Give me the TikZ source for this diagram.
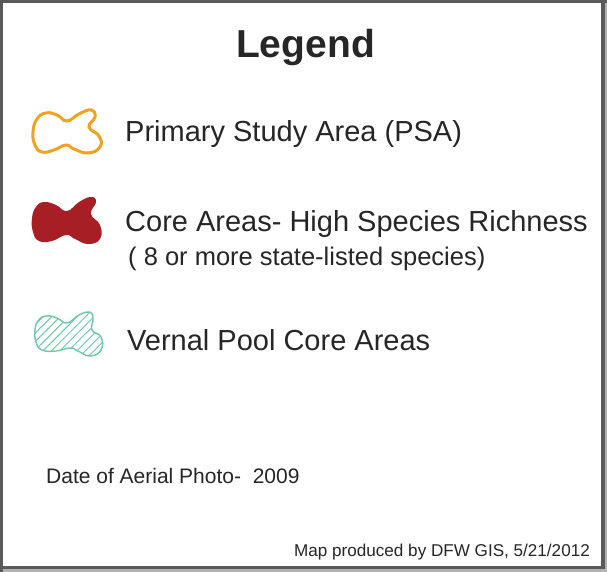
\documentclass[tikz,border=0pt]{standalone}
\usepackage{fontspec}
\setmainfont{Liberation Sans}
\usetikzlibrary{patterns.meta}
\definecolor{framegray}{HTML}{5A5A5A}
\definecolor{txt}{HTML}{262626}
\definecolor{psaor}{HTML}{F0A224}
\definecolor{corered}{HTML}{A81E25}
\definecolor{vpgreen}{HTML}{6CC9A6}
\tikzset{
  lbl/.style={anchor=base west, inner sep=0pt, text=txt, font=\fontsize{29}{34}\selectfont},
  blob/.style={smooth cycle, tension=0.8}
}
\begin{document}
\begin{tikzpicture}[x=1pt,y=-1pt]
\useasboundingbox (0,0) rectangle (607,572);
\fill[framegray] (0,0) rectangle (607,572);
\fill[gray!60] (601,3) rectangle (607,572);
\fill[gray!60] (3,566) rectangle (607,572);
\fill[framegray] (601,3) rectangle (605,569);
\fill[framegray] (3,566) rectangle (605,569);
\fill[white] (3,3) rectangle (601,566);

\node[anchor=base, inner sep=0pt, text=txt, font=\fontsize{39}{44}\selectfont\bfseries] (title) at (305.5,58) {Legend};

% PSA outline
\draw[psaor, line width=3pt] plot[blob] coordinates {(37,119) (46,113) (57,115) (67,121) (79,114) (91,110) (95,117) (89,127) (99,136) (100,147) (88,153) (74,149) (66,145) (54,150) (42,152) (35,145) (33,132)};
\node[lbl] (psa) at (125,142) {Primary Study Area (PSA)};

% Core areas (red)
\fill[corered] plot[blob] coordinates {(36,207) (44,202) (56,205) (67,211) (79,202) (91,197) (96,202) (91,214) (100,225) (100,239) (88,244) (75,239) (66,235) (52,241) (39,241) (33,232) (32,218)};
\node[lbl] (core) at (125,231) {Core Areas- High Species Richness};
\node[lbl, font=\fontsize{25.5}{30}\selectfont] (coresub) at (128,265) {( 8 or more state-listed species)};

% Vernal pool (hatched)
\draw[vpgreen, line width=1.4pt, pattern={Lines[angle=45,distance=6pt,line width=1pt]}, pattern color=vpgreen] plot[blob] coordinates {(38,321) (46,316) (57,318) (67,323) (79,315) (90,312) (93,319) (92,330) (101,337) (101,350) (90,356) (78,351) (70,348) (56,351) (42,350) (36,342) (35,330)};
\node[lbl] (vernal) at (127,350) {Vernal Pool Core Areas};

\node[lbl, font=\fontsize{21}{25}\selectfont] (date) at (46,483) {Date of Aerial Photo-\ \ 2009};
\node[lbl, font=\fontsize{17.1}{20}\selectfont] (credit) at (294,556) {Map produced by DFW GIS, 5/21/2012};
\end{tikzpicture}
\end{document}
